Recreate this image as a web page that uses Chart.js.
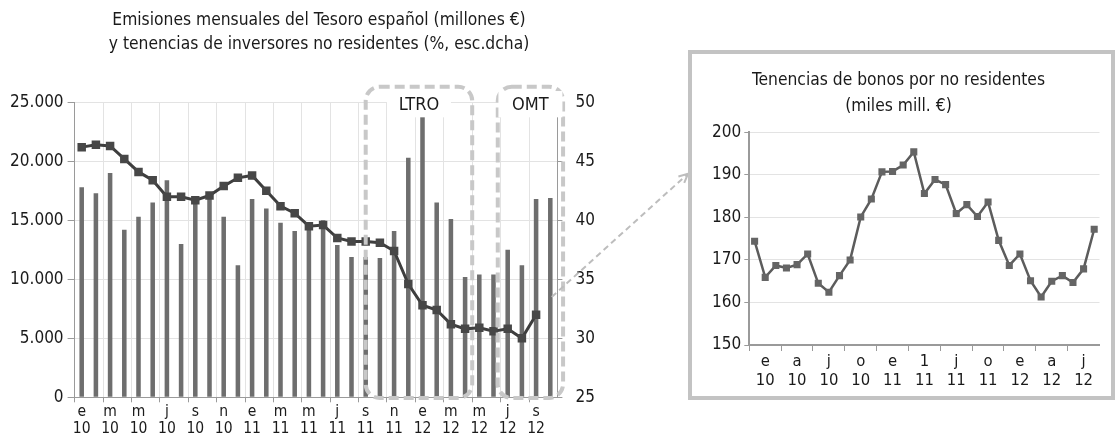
<!DOCTYPE html>
<html><head><meta charset="utf-8">
<script src="https://cdn.jsdelivr.net/npm/chart.js@4.4.1/dist/chart.umd.min.js"></script>
<style>
html,body{margin:0;padding:0;background:#fff;width:1119px;height:444px;overflow:hidden;font-family:'Liberation Sans Narrow','DejaVu Sans Condensed',sans-serif;}
#left{position:absolute;left:0;top:0;}
#rbox{position:absolute;left:688px;top:50px;width:427px;height:350px;box-sizing:border-box;border:4px solid #c3c3c3;background:#fff;}
#right{position:absolute;left:0;top:0;}
.title{position:absolute;text-align:center;color:#1a1a1a;font-size:17.3px;line-height:24px;white-space:nowrap;}
</style></head><body>
<canvas id="left" width="700" height="444"></canvas>
<div class="title" style="left:19px;top:7px;width:600px;">Emisiones mensuales del Tesoro español (millones €)<br>y tenencias de inversores no residentes (%, esc.dcha)</div>
<div id="rbox"><canvas id="right" width="419" height="342"></canvas>
<div class="title" style="left:-3px;top:12px;width:419px;line-height:26px;">Tenencias de bonos por no residentes<br>(miles mill. €)</div></div>
<script>
const F = "'Liberation Sans Narrow','DejaVu Sans Condensed',sans-serif";
Chart.defaults.font.family = F;

// Months Jan 2010 - Oct 2012 (left chart)
const categories = [
 ['e','10'],['f','10'],['m','10'],['a','10'],['m','10'],['j','10'],['j','10'],['a','10'],['s','10'],['o','10'],['n','10'],['d','10'],
 ['e','11'],['f','11'],['m','11'],['a','11'],['m','11'],['j','11'],['j','11'],['a','11'],['s','11'],['o','11'],['n','11'],['d','11'],
 ['e','12'],['f','12'],['m','12'],['a','12'],['m','12'],['j','12'],['j','12'],['a','12'],['s','12'],['o','12']
];
// Emisiones mensuales del Tesoro (millones €)
const emisiones = [17800,17300,19000,14200,15300,16500,18400,13000,16700,17000,15300,11200,
 16800,16000,14800,14100,14400,15000,12900,11900,11900,11800,14100,20300,
 24000,16500,15100,10200,10400,10400,12500,11200,16800,16900];
// Tenencias de no residentes (% , eje dcho)
const noResidentesPct = [46.2,46.4,46.3,45.2,44.1,43.4,42.0,42.0,41.7,42.1,42.9,43.6,
 43.8,42.5,41.2,40.6,39.5,39.6,38.5,38.2,38.2,38.1,37.4,34.6,
 32.8,32.4,31.2,30.8,30.9,30.6,30.8,30.0,32.0,null];

// Right chart: Jan 2010 - Sep 2012 (miles mill. €)
const tenenciasMonths = categories.slice(0,33);
const tenencias = [174.4,165.9,168.7,168.1,168.9,171.4,164.5,162.4,166.3,170.0,180.1,184.3,
 190.7,190.8,192.3,195.4,185.6,188.9,187.7,180.9,183.0,180.2,183.6,174.6,
 168.7,171.4,165.1,161.3,165.0,166.3,164.7,167.9,177.2];
const rightTickLabels = [['e','10'],['a','10'],['j','10'],['o','10'],['e','11'],['1','11'],['j','11'],['o','11'],['e','12'],['a','12'],['j','12']];

// Annotation boxes (category index positions)
const boxes = [{label:'LTRO', from:20, to:27.5},{label:'OMT', from:29.3, to:33.9}];

const fmt = v => String(v).replace(/\B(?=(\d{3})+(?!\d))/g,'.');
const TICKC = '#1a1a1a', AX = '#9a9a9a', GRID = '#e3e3e3', NONE = 'rgba(0,0,0,0)';

function rrect(ctx,x,y,w,h,r){
  ctx.beginPath();
  ctx.moveTo(x+r,y); ctx.lineTo(x+w-r,y); ctx.arcTo(x+w,y,x+w,y+r,r);
  ctx.lineTo(x+w,y+h-r); ctx.arcTo(x+w,y+h,x+w-r,y+h,r);
  ctx.lineTo(x+r,y+h); ctx.arcTo(x,y+h,x,y+h-r,r);
  ctx.lineTo(x,y+r); ctx.arcTo(x,y,x+r,y,r); ctx.closePath();
}

const annot = {
  id:'annot',
  afterDatasetsDraw(chart){
    const {ctx, scales:{x,y,y1}} = chart;
    ctx.save();
    const top = y.getPixelForValue(26320), bot = y.getPixelForValue(-60);
    ctx.strokeStyle = '#c8c8c8'; ctx.lineWidth = 4; ctx.setLineDash([10,5]);
    boxes.forEach(b=>{
      const x0 = x.getPixelForValue(b.from), x1 = x.getPixelForValue(b.to);
      rrect(ctx,x0,top,x1-x0,bot-top,14); ctx.stroke();
    });
    ctx.setLineDash([]);
    boxes.forEach(b=>{
      const cx = x.getPixelForValue((b.from+b.to)/2);
      ctx.fillStyle = '#fff'; ctx.fillRect(cx-32, top+4.3, 64, 26.3);
      ctx.fillStyle = TICKC; ctx.font = "18px "+F; ctx.textAlign='center'; ctx.textBaseline='alphabetic';
      ctx.fillText(b.label, cx, top+23.3);
    });
    // connector arrow to the right panel
    const sx = x.getPixelForValue(33.1), sy = y1.getPixelForValue(33.5);
    const ex = chart.width-12, ey = y1.getPixelForValue(43.95);
    ctx.strokeStyle = '#bdbdbd'; ctx.lineWidth = 2; ctx.setLineDash([6,4]);
    ctx.beginPath(); ctx.moveTo(sx,sy); ctx.lineTo(ex,ey); ctx.stroke();
    ctx.setLineDash([]);
    const a = Math.atan2(ey-sy, ex-sx);
    ctx.beginPath();
    ctx.moveTo(ex-10*Math.cos(a-0.45), ey-10*Math.sin(a-0.45)); ctx.lineTo(ex,ey);
    ctx.lineTo(ex-10*Math.cos(a+0.45), ey-10*Math.sin(a+0.45)); ctx.stroke();
    ctx.restore();
  }
};

new Chart(document.getElementById('left'), {
  type:'bar',
  data:{ labels: categories, datasets:[
    {type:'line', data:noResidentesPct, yAxisID:'y1', order:0, borderColor:'#3e3e3e', borderWidth:3,
     pointStyle:'rect', pointRadius:6, pointHoverRadius:6, pointBackgroundColor:'#474747', pointBorderWidth:0, tension:0},
    {type:'bar', data:emisiones, yAxisID:'y', order:1, backgroundColor:'#6e6e6e', barPercentage:0.32, categoryPercentage:1}
  ]},
  options:{ responsive:false, animation:false, devicePixelRatio:1,
    layout:{padding:{top:102.3,left:0,right:0,bottom:0}},
    plugins:{legend:{display:false}, tooltip:{enabled:false}},
    scales:{
      x:{ offset:true,
          grid:{offset:true, color:c=>c.index%2===0?GRID:NONE, tickColor:c=>c.index%2===0?AX:NONE, tickLength:5},
          border:{color:AX},
          ticks:{autoSkip:false, maxRotation:0, padding:1, color:TICKC, font:{size:15.5, lineHeight:1.1},
                 callback:(v,i)=> i%2===0 ? categories[i] : ''},
          afterFit:s=>{s.height=46.7;} },
      y:{ position:'left', min:0, max:25000,
          ticks:{stepSize:5000, callback:fmt, padding:4, color:TICKC, font:{size:17}},
          grid:{color:GRID, tickColor:AX, tickLength:7}, border:{color:AX},
          afterFit:s=>{s.width=74.6;} },
      y1:{ position:'right', min:25, max:50,
          ticks:{stepSize:5, padding:13, color:TICKC, font:{size:17}},
          grid:{drawOnChartArea:false, tickColor:AX, tickLength:5}, border:{color:AX},
          afterFit:s=>{s.width=142.6;} }
    }
  },
  plugins:[annot]
});

new Chart(document.getElementById('right'), {
  type:'line',
  data:{ labels: tenenciasMonths, datasets:[
    {data:tenencias, borderColor:'#5c5c5c', borderWidth:2.5, pointStyle:'rect', pointRadius:5, pointHoverRadius:5,
     pointBackgroundColor:'#656565', pointBorderWidth:0, tension:0}
  ]},
  options:{ responsive:false, animation:false, devicePixelRatio:1,
    layout:{padding:{top:78.3,right:11.5,left:0,bottom:0}},
    plugins:{legend:{display:false}, tooltip:{enabled:false}},
    scales:{
      x:{ offset:true,
          grid:{offset:true, drawOnChartArea:false, tickColor:c=>c.index%3===0?AX:NONE, tickLength:6},
          border:{color:AX, width:2},
          ticks:{autoSkip:false, maxRotation:0, padding:2, color:TICKC, font:{size:16.5, lineHeight:1.1},
                 callback:(v,i)=> i%3===1 ? rightTickLabels[(i-1)/3] : ''},
          afterFit:s=>{s.height=51;} },
      y:{ min:150, max:200,
          ticks:{stepSize:10, padding:3, color:TICKC, font:{size:17}},
          grid:{color:GRID, tickColor:AX, tickLength:5}, border:{color:AX, width:2},
          afterFit:s=>{s.width=57.3;} }
    }
  }
});
</script>
</body></html>
